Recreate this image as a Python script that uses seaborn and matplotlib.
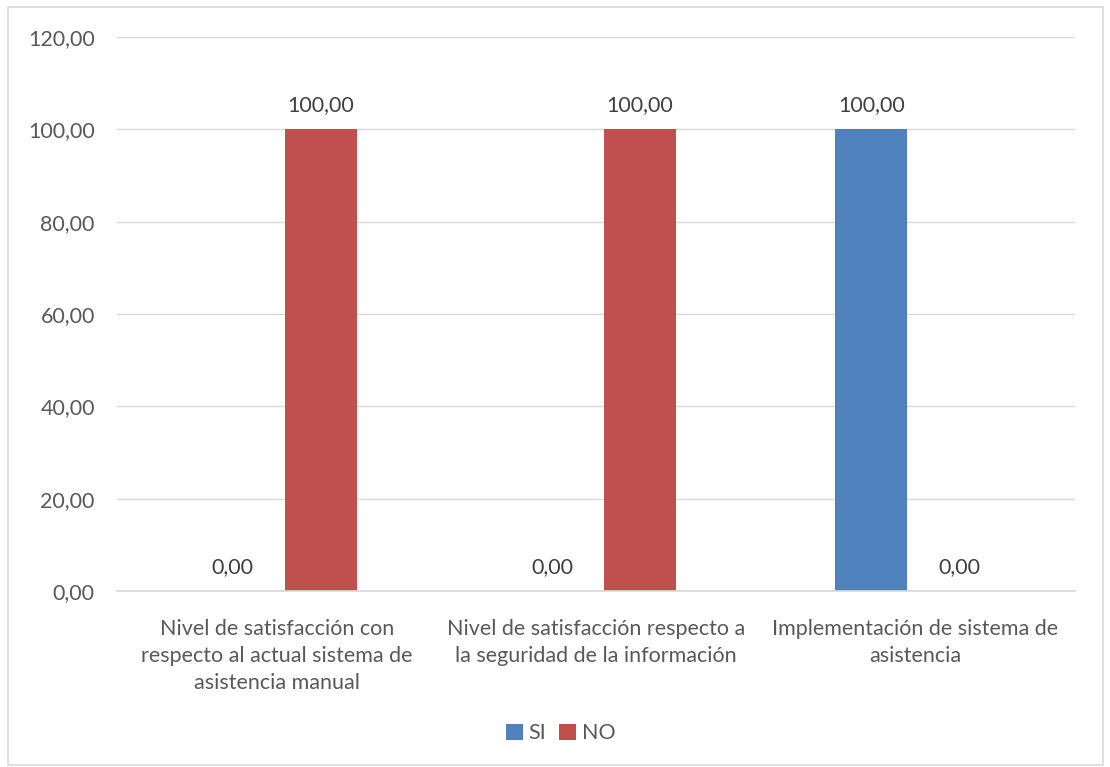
import matplotlib
matplotlib.use("Agg")
import matplotlib.pyplot as plt
import seaborn as sns
import pandas as pd
from matplotlib.patches import Rectangle

categorias = [
    "Nivel de satisfacción con\nrespecto al actual sistema de\nasistencia manual",
    "Nivel de satisfacción respecto a\nla seguridad de la información",
    "Implementación de sistema de\nasistencia",
]
series = ["SI", "NO"]
valores_si = [0.0, 0.0, 100.0]
valores_no = [100.0, 100.0, 0.0]
ticks_y = [0, 20, 40, 60, 80, 100, 120]

colores = {"SI": "#4F81BD", "NO": "#C0504D"}
texto = "#595959"
rejilla = "#D9D9D9"

df = pd.DataFrame({
    "categoria": categorias * 2,
    "serie": ["SI"] * len(categorias) + ["NO"] * len(categorias),
    "valor": valores_si + valores_no,
})

sns.set_theme(style="white")
plt.rcParams["font.family"] = ["Lato", "DejaVu Sans"]

fs = 15.5

fig = plt.figure(figsize=(11.1, 7.67), dpi=100)
ax = fig.add_axes([0.1054, 0.2295, 0.8631, 0.7223])

sns.barplot(data=df, x="categoria", y="valor", hue="serie", order=categorias,
            hue_order=series, palette=colores, width=0.55, gap=0.18,
            saturation=1, linewidth=0, ax=ax, legend=True)

def fmt(v):
    return f"{v:.2f}".replace(".", ",")

for cont in ax.containers:
    ax.bar_label(cont, labels=[fmt(b.get_height()) for b in cont],
                 padding=10, fontsize=fs, color="#404040")

ax.set_ylim(0, 120)
ax.set_yticks(ticks_y)
ax.set_yticklabels([fmt(t) for t in ticks_y], fontsize=fs, color=texto)
ax.tick_params(axis="x", labelsize=fs, labelcolor=texto, length=0, pad=20)
ax.tick_params(axis="y", length=0, pad=16)
for lbl in ax.get_xticklabels():
    lbl.set_linespacing(1.45)
ax.set_xlabel("")
ax.set_ylabel("")
ax.grid(axis="y", color=rejilla, linewidth=1)
ax.set_axisbelow(True)
for s in ["top", "right", "left"]:
    ax.spines[s].set_visible(False)
ax.spines["bottom"].set_color(rejilla)

# Legend centred under the whole figure
handles, labels = ax.get_legend_handles_labels()
ax.get_legend().remove()
leg = fig.legend(handles, labels, loc="center", bbox_to_anchor=(0.505, 0.044),
                 ncol=2, frameon=False, fontsize=fs, handlelength=0.8,
                 handleheight=0.8, handletextpad=0.25, columnspacing=0.6)
for t in leg.get_texts():
    t.set_color(texto)

fig.patches.append(Rectangle((8 / 1110, 2 / 767), 1095 / 1110, 758 / 767,
                             transform=fig.transFigure, fill=False,
                             edgecolor=rejilla, linewidth=1.2))

fig.savefig("out.png", dpi=100, facecolor="white")
